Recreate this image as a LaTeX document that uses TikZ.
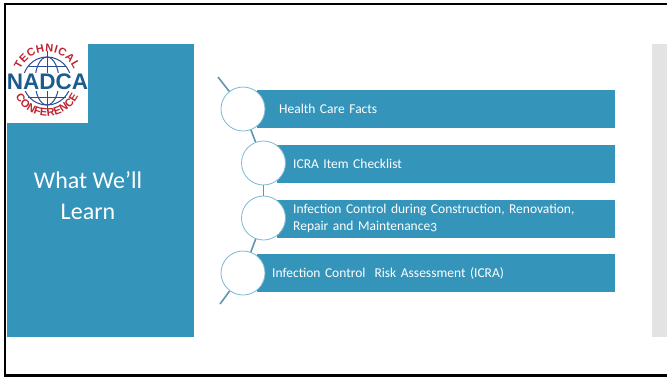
\documentclass[tikz,border=0pt]{standalone}
\usepackage{fontspec}
\setmainfont{Carlito}
\newfontfamily\logofont{Liberation Sans}
\usepackage{xcolor}
\usetikzlibrary{decorations.text}

\definecolor{slideblue}{RGB}{53,148,186}
\definecolor{ringblue}{RGB}{124,185,210}
\definecolor{linkblue}{RGB}{96,150,172}
\definecolor{panelgrey}{RGB}{227,227,227}
\definecolor{nadcablue}{RGB}{28,92,140}
\definecolor{globeblue}{RGB}{42,76,155}
\definecolor{nadcared}{RGB}{190,36,48}

\begin{document}
\begin{tikzpicture}[
  x=1pt, y=-1pt,
  barbox/.style={fill=slideblue, text=white, anchor=west, align=left,
    minimum height=38pt, inner ysep=2pt, font=\fontsize{13.5}{16.5}\selectfont},
  ring/.style={circle, draw=ringblue, line width=0.8pt, fill=white,
    minimum size=44pt, inner sep=0pt},
  link/.style={draw=linkblue, line width=1.6pt}
]
  \useasboundingbox (0,0) rectangle (667,378);

  % panels
  \fill[slideblue] (7,44) rectangle (194,337);
  \fill[panelgrey] (652,44) rectangle (670,337);
  \fill[white] (7,44) rectangle (88,123);

  % logo
  \node[font=\logofont\bfseries\fontsize{22.5}{22.5}\selectfont, text=nadcablue,
    inner sep=0pt] (nadca) at (47.5,81.5) {NADCA};
  \begin{scope}[shift={(47,81)}, x=1pt, y=1pt,
    globe/.style={draw=globeblue, line width=1pt}]
    \begin{scope}
      \clip (-30,9) rectangle (30,30);
      \draw[globe] (0,0) circle[radius=24];
      \draw[globe] (0,0) ellipse[x radius=12, y radius=24];
      \draw[globe] (0,0) -- (0,30);
      \draw[globe] (-19,15) -- (19,15);
    \end{scope}
    \begin{scope}
      \clip (-30,-10) rectangle (30,-30);
      \draw[globe] (0,0) circle[radius=24];
      \draw[globe] (0,0) ellipse[x radius=12, y radius=24];
      \draw[globe] (0,0) -- (0,-30);
      \draw[globe] (-19,-16) -- (19,-16);
    \end{scope}
    \path[decorate, decoration={text along path, text align=fit to path,
      text color=nadcared,
      text={|\logofont\bfseries\fontsize{11}{11}\selectfont|TECHNICAL}}]
      (157:29) arc[start angle=157, end angle=23, radius=29];
    \path[decorate, decoration={text along path, text align=fit to path,
      text color=nadcared,
      text={|\logofont\bfseries\fontsize{11}{11}\selectfont|CONFERENCE}}]
      (206:35) arc[start angle=206, end angle=334, radius=35];
  \end{scope}

  % title
  \node[text=white, align=center, font=\fontsize{24}{31}\selectfont]
    (title) at (88,196) {What We’ll\\Learn};

  % list
  \node[barbox, text width=314pt, inner xsep=22pt] (bar1) at (257,109)
    {Health Care Facts};
  \node[barbox, text width=306pt, inner xsep=16pt] (bar2) at (277,163.5)
    {ICRA Item Checklist};
  \node[barbox, text width=306pt, inner xsep=16pt] (bar3) at (277,218.5)
    {Infection Control during Construction, Renovation,\\
     Repair and Maintenance{\addfontfeature{Numbers=OldStyle}3}};
  \node[barbox, text width=328pt, inner xsep=15pt] (bar4) at (257,273)
    {Infection Control\ \ Risk Assessment (ICRA)};

  \node[ring] (c1) at (243,109) {};
  \node[ring] (c2) at (263.5,163) {};
  \node[ring] (c3) at (263.5,218) {};
  \node[ring] (c4) at (243,273) {};

  \coordinate (top) at (218,77);
  \coordinate (bot) at (220,304);
  \draw[link] (top) -- (c1);
  \draw[link] (c1) -- (c2);
  \draw[link] (c2) -- (c3);
  \draw[link] (c3) -- (c4);
  \draw[link] (c4) -- (bot);

  % frame
  \draw[line width=2.2pt] (670,4) -- (5,4) -- (5,375.5) -- (670,375.5);
\end{tikzpicture}
\end{document}
